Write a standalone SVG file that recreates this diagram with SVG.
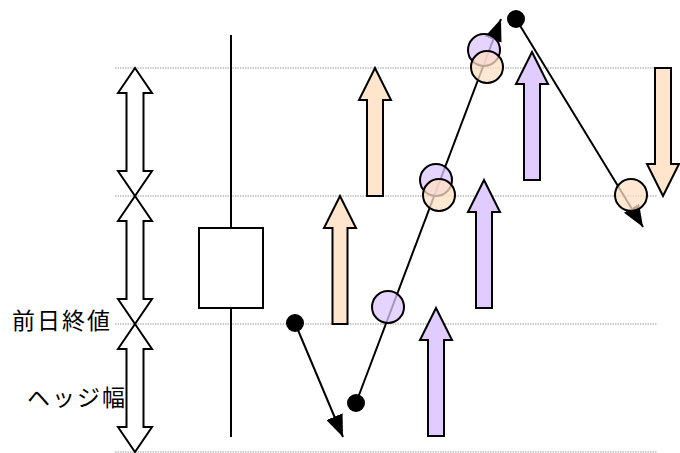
<svg xmlns="http://www.w3.org/2000/svg" width="680" height="453" viewBox="0 0 680 453">
  <style>
    .grid { stroke: #999; stroke-width: 1; stroke-dasharray: 1.5 1; fill: none; }
    .dbl { fill: #fff; stroke: #000; stroke-width: 2; stroke-linejoin: miter; }
    .up-o { fill: #FFE5CC; stroke: #000; stroke-width: 2; }
    .up-p { fill: #E0CCFF; stroke: #000; stroke-width: 2; }
    .c-o { fill: #FFE0C4; fill-opacity: 0.75; stroke: #000; stroke-width: 2; }
    .c-p { fill: #DCC6FF; fill-opacity: 0.75; stroke: #000; stroke-width: 2; }
    .conn { stroke: #000; stroke-width: 2; fill: none; }
    .dot { fill: #000; }
    .lbl { font-family: "Noto Sans CJK JP", "Noto Sans", sans-serif; font-size: 23px; fill: #000; letter-spacing: 2px; }
  </style>
  <defs>
    <marker id="tri" viewBox="0 0 10 8" refX="10" refY="4" markerWidth="11" markerHeight="8.8" orient="auto" markerUnits="strokeWidth">
      <path d="M0,0 L10,4 L0,8 Z" fill="#000"/>
    </marker>
  </defs>

  <!-- price levels -->
  <g id="levels">
    <line class="grid" x1="115" y1="68" x2="657" y2="68"/>
    <line class="grid" x1="115" y1="196" x2="657" y2="196"/>
    <line class="grid" x1="115" y1="324" x2="657" y2="324"/>
    <line class="grid" x1="115" y1="452" x2="657" y2="452"/>
  </g>

  <!-- hedge-width double arrows -->
  <g id="band1">
    <polygon class="dbl" points="135,68 152,93 143.5,93 143.5,171 152,171 135,196 118,171 126.5,171 126.5,93 118,93"/>
  </g>
  <g id="band2">
    <polygon class="dbl" points="135,196 152,221 143.5,221 143.5,299 152,299 135,324 118,299 126.5,299 126.5,221 118,221"/>
  </g>
  <g id="band3">
    <polygon class="dbl" points="135,324 152,349 143.5,349 143.5,427 152,427 135,452 118,427 126.5,427 126.5,349 118,349"/>
  </g>

  <!-- labels -->
  <g id="label-close">
    <text class="lbl" x="12" y="329">前日終値</text>
  </g>
  <g id="label-hedge">
    <text class="lbl" x="27" y="406">ヘッジ幅</text>
  </g>

  <!-- candlestick -->
  <g id="candle">
    <line x1="231" y1="35" x2="231" y2="228" stroke="#000" stroke-width="2"/>
    <line x1="231" y1="308" x2="231" y2="437" stroke="#000" stroke-width="2"/>
    <rect x="199" y="228" width="64" height="80" fill="#fff" stroke="#000" stroke-width="2"/>
  </g>

  <!-- orange moves -->
  <g id="orange-up1">
    <polygon class="up-o" points="340,196 356,228 347.5,228 347.5,324 332.5,324 332.5,228 324,228"/>
  </g>
  <g id="orange-up2">
    <polygon class="up-o" points="375,68 391,100 383,100 383,196 367,196 367,100 359,100"/>
  </g>
  <g id="orange-down">
    <polygon class="up-o" points="655,68 671,68 671,164 679,164 663,196 647,164 655,164"/>
  </g>

  <!-- purple moves -->
  <g id="purple-up1">
    <polygon class="up-p" points="436,308 452,340 444,340 444,436 428,436 428,340 420,340"/>
  </g>
  <g id="purple-up2">
    <polygon class="up-p" points="484,180 500,212 492,212 492,308 476,308 476,212 468,212"/>
  </g>
  <g id="purple-up3">
    <polygon class="up-p" points="532,52 548,84 540,84 540,180 524,180 524,84 516,84"/>
  </g>

  <!-- price path -->
  <g id="connectors">
    <line class="conn" x1="295" y1="323" x2="343" y2="437" marker-end="url(#tri)"/>
    <line class="conn" x1="356" y1="403" x2="501" y2="19" marker-end="url(#tri)"/>
    <line class="conn" x1="516" y1="19" x2="643" y2="227" marker-end="url(#tri)"/>
  </g>

  <!-- fills -->
  <g id="fills">
    <circle class="c-p" cx="388" cy="307" r="16"/>
    <circle class="c-p" cx="436" cy="180" r="16"/>
    <circle class="c-o" cx="439" cy="195" r="16"/>
    <circle class="c-p" cx="484" cy="50" r="16"/>
    <circle class="c-o" cx="487" cy="67" r="16"/>
    <circle class="c-o" cx="631" cy="195" r="16"/>
  </g>

  <!-- turning points -->
  <g id="points">
    <circle class="dot" cx="295" cy="323" r="9"/>
    <circle class="dot" cx="356" cy="403" r="9"/>
    <circle class="dot" cx="516" cy="19" r="9"/>
  </g>
</svg>
